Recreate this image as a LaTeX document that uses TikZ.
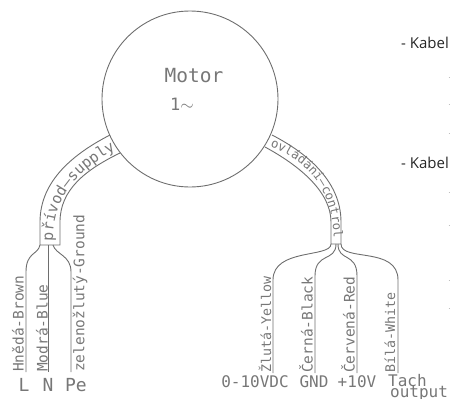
\documentclass[tikz,border=0pt]{standalone}
\usepackage{fontspec}
\setmainfont{Open Sans}
\newfontfamily\plotfont{DejaVu Sans Mono}
\usetikzlibrary{decorations.text}
\definecolor{plotline}{HTML}{6E6E6E}
\definecolor{plottext}{HTML}{777777}
\tikzset{
  x=1pt,y=-1pt,
  wire/.style={draw=plotline,line width=0.9pt},
  plotlabel/.style={text=plottext,inner sep=0pt,font=\plotfont\fontsize{16}{16}\selectfont},
  bigplot/.style={plotlabel,font=\plotfont\fontsize{18}{18}\selectfont},
  wirelabel/.style={text=plottext,inner sep=0pt,rotate=90,anchor=west,font=\plotfont\fontsize{14.5}{14.5}\selectfont},
  smallwire/.style={wirelabel,font=\plotfont\fontsize{13.3}{13.3}\selectfont},
  kabel/.style={text=black!85,inner sep=0pt,anchor=west,font=\fontsize{15}{15}\selectfont},
  stub/.style={draw=black!25,line width=0.8pt},
}
\begin{document}
\begin{tikzpicture}
\useasboundingbox (0,0) rectangle (450,399);
% motor
\node[circle,wire,minimum size=176pt,inner sep=0pt] (motor) at (190,99) {};
\node[plotlabel,font=\plotfont\fontsize{19.5}{19.5}\selectfont] (motortext) at (194,76) {Motor};
\node[plotlabel,font=\plotfont\fontsize{17}{17}\selectfont] (phase) at (182,104) {1$\sim$};
% named points
\coordinate (lo) at (110,135); \coordinate (li) at (120,153);
\coordinate (lbl) at (40,245); \coordinate (lbr) at (60,245);
\coordinate (ln) at (48,245); \coordinate (lp) at (53,245);
\coordinate (ro) at (272,135); \coordinate (ri) at (265,147);
\coordinate (rbl) at (331,244); \coordinate (rbr) at (341,244);
\coordinate (rb2) at (336,244); \coordinate (rb3) at (338,244);
\coordinate (eL) at (26,372); \coordinate (eN) at (48,372); \coordinate (eP) at (71,372);
\coordinate (eY) at (273,373); \coordinate (eK) at (315,373); \coordinate (eR) at (357,373); \coordinate (eW) at (398,373);
% left cable
\draw[wire] (lo) .. controls (75,153) and (40,180) .. (40,222) -- (lbl) -- (lbr) -- (60,222)
   .. controls (60,190) and (85,170) .. (li);
% right cable
\draw[wire] (ro) .. controls (305,152) and (341,180) .. (341,222) -- (rbr) -- (rbl) -- (331,222)
   .. controls (331,192) and (300,166) .. (ri);
% left wires
\draw[wire] (lbl) .. controls (38,255) and (26,252) .. (26,272) -- (eL);
\draw[wire] (ln) -- (eN);
\draw[wire] (lp) .. controls (56,255) and (71,255) .. (71,272) -- (eP);
% right wires
\draw[wire] (rbl) .. controls (331,258) and (273,248) .. (273,280) -- (eY);
\draw[wire] (rb2) .. controls (336,262) and (315,252) .. (315,276) -- (eK);
\draw[wire] (rb3) .. controls (338,262) and (357,252) .. (357,276) -- (eR);
\draw[wire] (rbr) .. controls (341,262) and (398,246) .. (398,280) -- (eW);
% cable text
\path[postaction={decorate,decoration={text along path,raise=0pt,
   text={|\plotfont\fontsize{15}{15}\selectfont\color{plottext}|přívod—supply}}}]
   (53,241) .. controls (53,195) and (78,170) .. (122,146);
\path[postaction={decorate,decoration={text along path,raise=0pt,
   text={|\plotfont\fontsize{12.4}{12.4}\selectfont\color{plottext}|ovládání—control}}}]
   (270,147) .. controls (305,160) and (333,185) .. (334,243);
% wire labels
\node[wirelabel] (tL) at (18,372) {Hnědá-Brown};
\node[wirelabel] (tN) at (42,372) {Modrá-Blue};
\node[wirelabel] (tP) at (80,372) {zelenožlutý-Ground};
\node[smallwire] (tY) at (265,373) {Žlutá-Yellow};
\node[wirelabel] (tK) at (306,373) {Černá-Black};
\node[wirelabel] (tR) at (348,373) {Červená-Red};
\node[smallwire] (tW) at (390,373) {Bílá-White};
% terminal labels
\node[bigplot] (L) at (24,385) {L};
\node[bigplot] (N) at (48,385) {N};
\node[bigplot] (Pe) at (76,385) {Pe};
\node[plotlabel] (v) at (255,382) {0-10VDC};
\node[plotlabel] (gnd) at (314,382) {GND};
\node[plotlabel] (ten) at (357,382) {+10V};
\node[plotlabel,anchor=west] (tach) at (388,381) {Tach};
\node[plotlabel,anchor=west] (out) at (390,394) {output};
% right text
\node[kabel] (k1) at (401,43) {- Kabel};
\node[kabel] (k2) at (401,163) {- Kabel};
\foreach \yy in {77,104,133,192,225,280,308}
  \draw[stub] (448.5,\yy) -- (450,\yy);
\end{tikzpicture}
\end{document}
